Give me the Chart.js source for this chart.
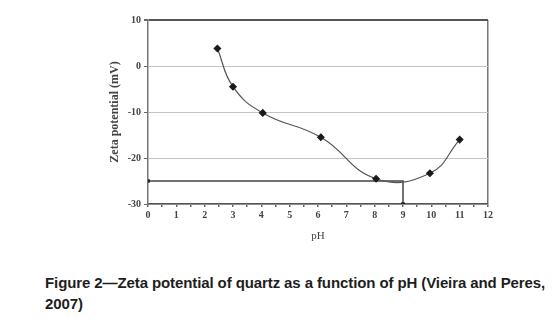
<!DOCTYPE html>
<html>
<head>
<meta charset="utf-8">
<script src="https://cdn.jsdelivr.net/npm/chart.js@4"></script>
<style>
  body { margin: 0; background: #fff; width: 554px; height: 332px; overflow: hidden; position: relative; }
  #wrap { position: absolute; left: 0; top: 0; width: 554px; height: 245px; }
  #caption { position: absolute; left: 45px; top: 272px; width: 507px; font-family: "Liberation Sans", Arial, sans-serif; font-weight: bold; font-size: 15px; line-height: 21px; color: #1e1e1e; letter-spacing: -0.1px; }
</style>
</head>
<body>
<div id="wrap"><canvas id="chart" width="554" height="245"></canvas></div>
<div id="caption">Figure 2—Zeta potential of quartz as a function of pH (Vieira and Peres, 2007)</div>
<script>
const phValues = [2.45, 3, 4.05, 6.1, 8.05, 9.95, 11];
const zetaValues = [3.8, -4.5, -10.2, -15.5, -24.5, -23.3, -16];
const iepLineX = [0, 9, 9];
const iepLineY = [-25, -25, -30];
const xTicks = [0, 1, 2, 3, 4, 5, 6, 7, 8, 9, 10, 11, 12];
const yTicks = [10, 0, -10, -20, -30];

const ctx = document.getElementById("chart").getContext("2d");
new Chart(ctx, {
  type: "scatter",
  data: {
    datasets: [
      {
        data: phValues.map((x, i) => ({ x: x, y: zetaValues[i] })),
        showLine: true,
        tension: 0.45,
        borderColor: "#555",
        borderWidth: 1.2,
        pointStyle: "rectRot",
        pointRadius: 3.2,
        pointBackgroundColor: "#1a1a1a",
        pointBorderColor: "#1a1a1a"
      },
      {
        data: iepLineX.map((x, i) => ({ x: x, y: iepLineY[i] })),
        showLine: true,
        tension: 0,
        borderColor: "#444",
        borderWidth: 1.5,
        pointStyle: "rect",
        pointRadius: [1.5, 0, 1.5],
        pointBackgroundColor: "#222",
        pointBorderColor: "#222"
      }
    ]
  },
  options: {
    responsive: false,
    animation: false,
    layout: { padding: { left: 108, right: 66, top: 20, bottom: 2 } },
    plugins: { legend: { display: false }, tooltip: { enabled: false } },
    scales: {
      x: {
        type: "linear",
        min: 0,
        max: 12,
        afterFit: s => { s.height = 39; },
        afterBuildTicks: s => { s.ticks = []; for (let v = 0; v <= 24; v++) s.ticks.push({ value: v / 2 }); },
        ticks: {
          autoSkip: false,
          maxRotation: 0,
          padding: 2,
          color: "#444",
          font: { family: "Liberation Serif", size: 10, weight: "bold" },
          callback: v => (Number.isInteger(v) && xTicks.includes(v) ? String(v) : "")
        },
        grid: {
          drawOnChartArea: true,
          color: c => (c.tick && c.tick.value === 12 ? "#777" : "rgba(0,0,0,0)"),
          lineWidth: 1.5,
          tickColor: "#666",
          tickLength: 3
        },
        border: { color: "#555", width: 1.5 },
        title: { display: true, text: "pH", color: "#444", font: { family: "Liberation Serif", size: 11 }, padding: 0 }
      },
      y: {
        min: -30,
        max: 10,
        afterFit: s => { s.width = 40; },
        afterBuildTicks: s => { s.ticks = yTicks.map(v => ({ value: v })); },
        ticks: {
          color: "#444",
          padding: 3,
          font: { family: "Liberation Serif", size: 10, weight: "bold" }
        },
        grid: {
          color: c => (c.tick && c.tick.value === 10 ? "#555" : "#c4c4c4"),
          lineWidth: c => (c.tick && c.tick.value === 10 ? 2 : 1),
          tickColor: "#666",
          tickLength: 4
        },
        border: { color: "#777", width: 1.5 },
        title: { display: true, text: "Zeta potential (mV)", color: "#444", font: { family: "Liberation Serif", size: 12, weight: "bold" }, padding: 0 }
      }
    }
  }
});
</script>
</body>
</html>
